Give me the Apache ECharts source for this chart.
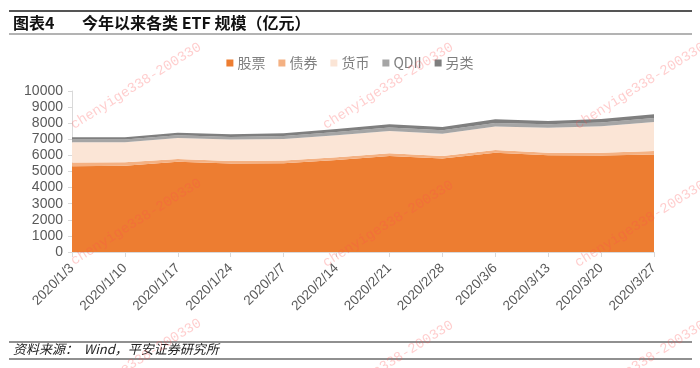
<!DOCTYPE html>
<html>
<head>
<meta charset="utf-8">
<script src="https://cdn.jsdelivr.net/npm/echarts@6/dist/echarts.min.js"></script>
<style>
html,body{margin:0;padding:0;background:#fff;}
#main{width:700px;height:368px;}
</style>
</head>
<body>
<div id="main"></div>
<script>
// ---- data (亿元) ----
const categories = ['2020/1/3','2020/1/10','2020/1/17','2020/1/24','2020/2/7','2020/2/14','2020/2/21','2020/2/28','2020/3/6','2020/3/13','2020/3/20','2020/3/27'];
const seriesNames = ['股票','债券','货币','QDII','另类'];
const stockValues = [5320, 5350, 5610, 5490, 5510, 5710, 5960, 5800, 6170, 6010, 6000, 6050];
const bondValues  = [240, 230, 160, 165, 180, 170, 180, 165, 165, 160, 170, 220];
const moneyValues = [1260, 1240, 1310, 1325, 1330, 1370, 1370, 1385, 1455, 1540, 1640, 1810];
const qdiiValues  = [160, 160, 170, 170, 180, 200, 220, 210, 230, 220, 230, 250];
const otherValues = [150, 150, 160, 160, 170, 190, 200, 200, 220, 210, 220, 230];
const yTicks = [0,1000,2000,3000,4000,5000,6000,7000,8000,9000,10000];

const colors = ['#ED7D31','#F4B183','#FBE5D6','#A5A5A5','#7F7F7F'];
const allValues = [stockValues, bondValues, moneyValues, qdiiValues, otherValues];

const chart = echarts.init(document.getElementById('main'), null, {renderer:'canvas'});

const wmText = 'chenyige338-200330';
const wmCenters = [[136,86],[388,86],[640,86],[136,222],[388,224],[640,224],[136,362],[388,364],[640,364]];
const watermarks = wmCenters.map(c => ({
  type:'text', x:c[0], y:c[1], rotation:0.56, silent:true, z:100,
  style:{text:wmText, fill:'rgba(255,80,80,0.28)', font:'14px "Liberation Mono", monospace', textAlign:'center', textVerticalAlign:'middle'}
}));

const option = {
  animation:false,
  backgroundColor:'#ffffff',
  color: colors,
  title:[
    {text:'图表4', left:13, top:15, padding:0, textStyle:{fontFamily:'"Noto Sans CJK SC", sans-serif', fontSize:16, fontWeight:'bold', color:'#111'}},
    {text:'今年以来各类 ETF 规模（亿元）', left:82, top:15, padding:0, textStyle:{fontFamily:'"Noto Sans CJK SC", sans-serif', fontSize:16, fontWeight:'bold', color:'#111'}},
    {text:'资料来源：  Wind，平安证券研究所', left:13, top:343, padding:0, textStyle:{fontFamily:'"Noto Sans CJK SC", sans-serif', fontSize:13, fontStyle:'italic', fontWeight:'normal', color:'#222'}}
  ],
  legend:{
    data: seriesNames,
    left:'center', top:51,
    icon:'rect', itemWidth:7, itemHeight:7, itemGap:13,
    textStyle:{fontFamily:'"Noto Sans CJK SC", sans-serif', fontSize:14, color:'#7F7F7F', padding:[0,0,0,-1]}
  },
  grid:{left:72, right:46, top:91, bottom:116, containLabel:false},
  xAxis:{
    type:'category', data:categories, boundaryGap:false,
    axisLine:{lineStyle:{color:'#D9D9D9', width:1}},
    axisTick:{show:true, length:5, lineStyle:{color:'#D9D9D9'}},
    axisLabel:{rotate:45, margin:14, fontSize:13.5, color:'#595959', fontFamily:'"Liberation Sans", sans-serif', interval:0}
  },
  yAxis:{
    type:'value', min:yTicks[0], max:yTicks[yTicks.length-1], interval:1000,
    axisLine:{show:true, lineStyle:{color:'#D9D9D9', width:1}},
    axisTick:{show:true, length:4, lineStyle:{color:'#D9D9D9'}},
    splitLine:{show:false},
    axisLabel:{margin:9, fontSize:14, color:'#595959', fontFamily:'"Liberation Sans", sans-serif', formatter: v => String(v)}
  },
  series: seriesNames.map((name,i)=>({
    name:name, type:'line', stack:'total', data:allValues[i],
    symbol:'none', smooth:false,
    lineStyle:{width:0},
    areaStyle:{color:colors[i], opacity:1},
    itemStyle:{color:colors[i]}
  })),
  graphic:[
    {type:'line', shape:{x1:9,y1:11,x2:692,y2:11}, style:{stroke:'#555', lineWidth:2}, silent:true},
    {type:'line', shape:{x1:9,y1:34,x2:692,y2:34}, style:{stroke:'#9a9a9a', lineWidth:1.5}, silent:true},
    {type:'line', shape:{x1:9,y1:342,x2:692,y2:342}, style:{stroke:'#222', lineWidth:1.2}, silent:true},
    {type:'line', shape:{x1:9,y1:359,x2:692,y2:359}, style:{stroke:'#222', lineWidth:1.2}, silent:true}
  ].concat(watermarks)
};
chart.setOption(option);
</script>
</body>
</html>
